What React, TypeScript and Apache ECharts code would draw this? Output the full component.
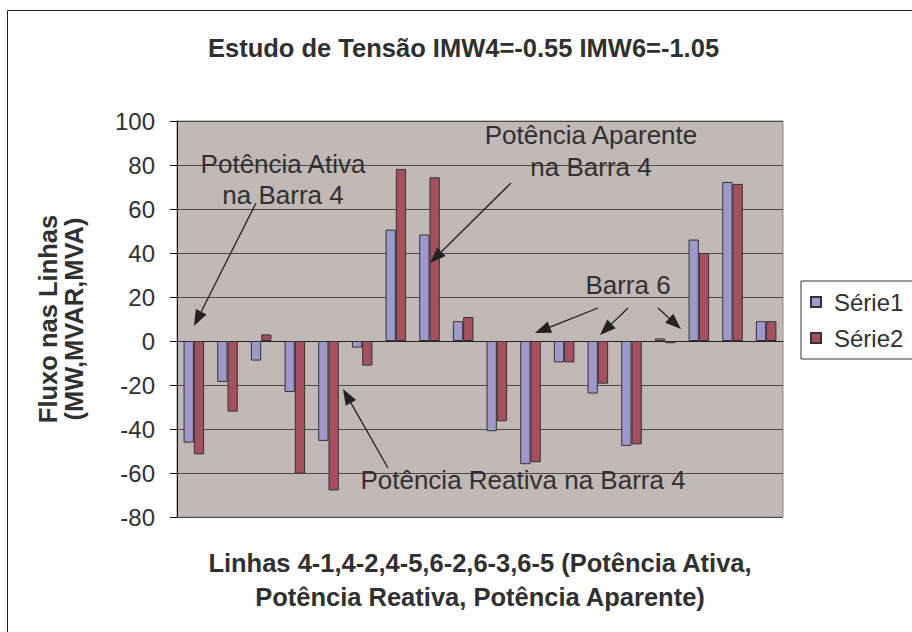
import React, { useEffect, useRef } from "react";
import * as echarts from "echarts";

const categories = [
  "P 4-1", "P 4-2", "P 4-5",
  "Q 4-1", "Q 4-2", "Q 4-5",
  "S 4-1", "S 4-2", "S 4-5",
  "P 6-2", "P 6-3", "P 6-5",
  "Q 6-2", "Q 6-3", "Q 6-5",
  "S 6-2", "S 6-3", "S 6-5",
];
const serie1 = [-46.2, -18.6, -8.9, -23.2, -45.4, -3.0, 50.6, 48.4, 9.0, -41.0, -56.0, -9.7, -23.9, -47.7, 1.2, 46.1, 72.3, 9.0];
const serie2 = [-51.5, -32.1, 3.0, -60.3, -67.9, -11.2, 78.2, 74.4, 10.9, -36.5, -55.1, -9.7, -19.4, -47.0, -1.0, 40.0, 71.4, 9.0];
const seriesNames = ["Série1", "Série2"];

const FONT = "'Liberation Sans', Arial, sans-serif";
const TXT = "#303030";

function arrow(x1: number, y1: number, x2: number, y2: number): any[] {
  const dx = x2 - x1;
  const dy = y2 - y1;
  const L = Math.hypot(dx, dy);
  const ux = dx / L;
  const uy = dy / L;
  const hl = 16;
  const hw = 6;
  const bx = x2 - ux * hl;
  const by = y2 - uy * hl;
  const px = -uy;
  const py = ux;
  return [
    {
      type: "line",
      z: 100,
      shape: { x1, y1, x2: bx, y2: by },
      style: { stroke: "#222", lineWidth: 1.3 },
    },
    {
      type: "polygon",
      z: 100,
      shape: {
        points: [
          [x2, y2],
          [bx + px * hw, by + py * hw],
          [bx - px * hw, by - py * hw],
        ],
      },
      style: { fill: "#222" },
    },
  ];
}

function label(text: string, x: number, y: number): any {
  return {
    type: "text",
    z: 100,
    x,
    y,
    style: {
      text,
      align: "center",
      verticalAlign: "middle",
      fontFamily: FONT,
      fontSize: 26,
      fill: TXT,
    },
  };
}

export default function App() {
  const ref = useRef<HTMLDivElement>(null);
  useEffect(() => {
    document.body.style.margin = "0";
    if (!ref.current) return;
    const chart = echarts.init(ref.current, null, { renderer: "svg" });
    const option: any = {
      animation: false,
      backgroundColor: "#ffffff",
      title: {
        text: "Estudo de Tensão IMW4=-0.55 IMW6=-1.05",
        left: 208,
        top: 35,
        padding: 0,
        textStyle: { fontFamily: FONT, fontSize: 25.5, fontWeight: "bold", color: TXT },
      },
      legend: {
        data: seriesNames,
        orient: "vertical",
        left: 801,
        top: 281,
        icon: "rect",
        itemWidth: 10,
        itemHeight: 10,
        itemGap: 10,
        padding: [8, 40, 8, 9],
        borderColor: "#333",
        borderWidth: 1,
        backgroundColor: "#fff",
        textStyle: { fontFamily: FONT, fontSize: 24, color: TXT, lineHeight: 26, padding: [0, 0, 0, 8] },
      },
      grid: {
        left: 177,
        top: 121,
        right: 129,
        bottom: 115,
        containLabel: false,
        outerBoundsMode: "none",
        show: true,
        backgroundColor: "#c1b9b6",
        borderColor: "#888",
        borderWidth: 1,
      },
      xAxis: {
        type: "category",
        data: categories,
        name: "Linhas 4-1,4-2,4-5,6-2,6-3,6-5 (Potência Ativa,\nPotência Reativa, Potência Aparente)",
        nameLocation: "middle",
        nameGap: 29,
        nameTextStyle: { fontFamily: FONT, fontSize: 25.5, fontWeight: "bold", color: TXT, lineHeight: 34 },
        axisLine: { onZero: true, lineStyle: { color: "#222", width: 1 } },
        axisTick: { show: false },
        axisLabel: { show: false },
        splitLine: { show: false },
      },
      yAxis: {
        type: "value",
        min: -80,
        max: 100,
        interval: 20,
        name: "Fluxo nas Linhas\n(MW,MVAR,MVA)",
        nameLocation: "middle",
        nameGap: 90,
        nameTextStyle: { fontFamily: FONT, fontSize: 25.5, fontWeight: "bold", color: TXT, lineHeight: 26 },
        axisLine: { show: true, lineStyle: { color: "#111", width: 1 } },
        axisTick: { show: true, length: 7, lineStyle: { color: "#111" } },
        axisLabel: { fontFamily: FONT, fontSize: 24, color: TXT, margin: 22 },
        splitLine: { show: true, lineStyle: { color: "#4a4a4a", width: 1 } },
      },
      series: [
        {
          name: seriesNames[0],
          type: "bar",
          data: serie1,
          barGap: "0%",
          barCategoryGap: "39%",
          itemStyle: { color: "#9e99cc", borderColor: "#333", borderWidth: 1 },
        },
        {
          name: seriesNames[1],
          type: "bar",
          data: serie2,
          barGap: "0%",
          barCategoryGap: "39%",
          itemStyle: { color: "#a54f5f", borderColor: "#333", borderWidth: 1 },
        },
      ],
      graphic: [
        {
          type: "rect",
          z: 0,
          silent: true,
          shape: { x: 7.5, y: 10.5, width: 1200, height: 1200 },
          style: { fill: "none", stroke: "#222", lineWidth: 1 },
        },
        label("Potência Ativa", 283, 164),
        label("na Barra 4", 283, 195),
        label("Potência Aparente", 591, 135),
        label("na Barra 4", 591, 167),
        label("Potência Reativa na Barra 4", 523, 480),
        label("Barra 6", 628, 285),
        ...arrow(256, 203, 194, 326),
        ...arrow(511, 183, 430, 263),
        ...arrow(388, 468, 343, 389),
        ...arrow(598, 308, 535, 333),
        ...arrow(628, 308, 600, 335),
        ...arrow(658, 308, 681, 329),
      ],
    };
    chart.setOption(option);
    return () => chart.dispose();
  }, []);
  return <div ref={ref} style={{ width: 912, height: 632 }} />;
}
